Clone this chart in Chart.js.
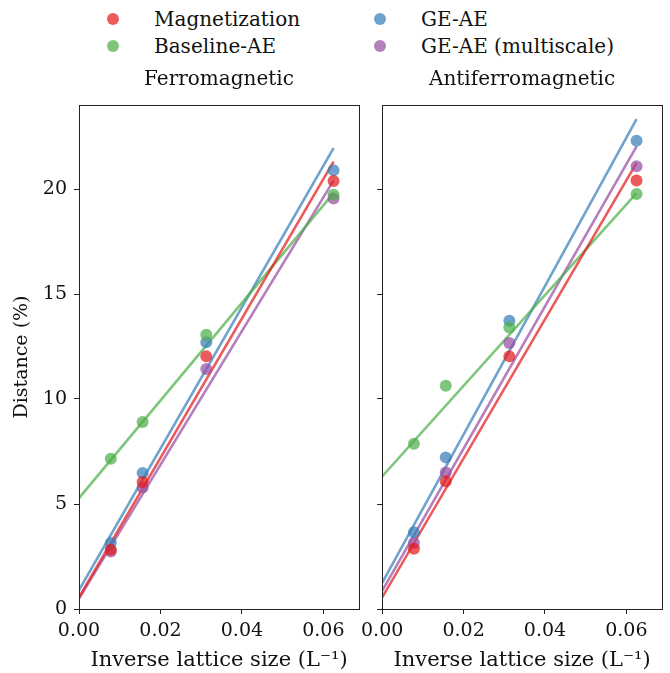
<!DOCTYPE html>
<html>
<head>
<meta charset="utf-8">
<script src="https://cdn.jsdelivr.net/npm/chart.js@4/dist/chart.umd.min.js"></script>
<style>
  html, body { margin:0; padding:0; background:#fff; }
  #wrap { position:relative; width:670px; height:673px; overflow:hidden; font-family:"DejaVu Serif", serif; }
  canvas { position:absolute; }
  .leg { position:absolute; font-size:20px; line-height:24px; color:#111; white-space:nowrap; }
  .dot { position:absolute; width:12px; height:12px; border-radius:50%; }
</style>
</head>
<body>
<div id="wrap">
  <div id="legend"></div>
  <canvas id="c1" width="370" height="613" style="left:0;top:60px;width:370px;height:613px"></canvas>
  <canvas id="c2" width="315" height="613" style="left:355px;top:60px;width:315px;height:613px"></canvas>
</div>
<script>
// ---- data ----
const seriesNames = ["Magnetization", "Baseline-AE", "GE-AE", "GE-AE (multiscale)"];
const seriesColors = ["rgba(228,26,28,0.72)", "rgba(77,175,74,0.72)", "rgba(55,126,184,0.72)", "rgba(152,78,163,0.72)"];
const panelTitles = ["Ferromagnetic", "Antiferromagnetic"];
const inverseL = [0.0078125, 0.015625, 0.03125, 0.0625];
const fitX = [0, 0.0625];

// Ferromagnetic
const ferroMagnetization = [2.82, 6.05, 12.03, 20.38];
const ferroBaseline      = [7.16, 8.90, 13.06, 19.73];
const ferroGEAE          = [3.14, 6.48, 12.70, 20.89];
const ferroMultiscale    = [2.74, 5.78, 11.43, 19.55];
const ferroFitMagnetization = [0.55, 21.30];
const ferroFitBaseline      = [5.28, 19.80];
const ferroFitGEAE          = [0.90, 21.95];
const ferroFitMultiscale    = [0.50, 20.40];

// Antiferromagnetic
const antiMagnetization = [2.87, 6.08, 12.03, 20.40];
const antiBaseline      = [7.87, 10.63, 13.41, 19.76];
const antiGEAE          = [3.65, 7.22, 13.73, 22.30];
const antiMultiscale    = [3.14, 6.50, 12.67, 21.08];
const antiFitMagnetization = [0.55, 21.24];
const antiFitBaseline      = [6.31, 19.80];
const antiFitGEAE          = [1.24, 23.33];
const antiFitMultiscale    = [0.86, 22.03];

const xTicks = [0, 0.02, 0.04, 0.06];
const yTicks = [0, 5, 10, 15, 20];
const xMax = 0.06875, yMax = 24;

// ---- legend (HTML text) ----
const legend = document.getElementById('legend');
const legPos = [[113, 154, 19], [113, 154, 46], [380, 421, 19], [380, 421, 46]];
seriesNames.forEach((n, i) => {
  const [dx, tx, cy] = legPos[i];
  const d = document.createElement('div');
  d.className = 'dot';
  d.style.left = (dx - 6) + 'px'; d.style.top = (cy - 6) + 'px';
  d.style.background = seriesColors[i];
  legend.appendChild(d);
  const t = document.createElement('div');
  t.className = 'leg';
  t.textContent = n;
  t.style.left = tx + 'px'; t.style.top = (cy - 12) + 'px';
  legend.appendChild(t);
});

const frame = {
  id: 'frame',
  afterDatasetsDraw(chart) {
    const a = chart.chartArea, ctx = chart.ctx;
    ctx.save();
    ctx.strokeStyle = '#222';
    ctx.lineWidth = 1;
    ctx.strokeRect(Math.round(a.left) + 0.5, Math.round(a.top) + 0.5, Math.round(a.right - a.left), Math.round(a.bottom - a.top));
    ctx.restore();
  }
};

function makeDatasets(points, fits) {
  const ds = [];
  points.forEach((vals, i) => {
    ds.push({
      type: 'line', label: seriesNames[i] + ' fit',
      data: fitX.map((x, k) => ({x, y: fits[i][k]})),
      borderColor: seriesColors[i], borderWidth: 2.6, pointRadius: 0, fill: false, order: 2
    });
  });
  points.forEach((vals, i) => {
    ds.push({
      type: 'scatter', label: seriesNames[i],
      data: inverseL.map((x, k) => ({x, y: vals[k]})),
      backgroundColor: seriesColors[i], borderWidth: 0, pointRadius: 6, order: 1
    });
  });
  return ds;
}

function makeChart(id, title, points, fits, yAxisWidth, padRight, showY) {
  return new Chart(document.getElementById(id), {
    type: 'scatter',
    data: { datasets: makeDatasets(points, fits) },
    plugins: [frame],
    options: {
      responsive: false, animation: false, devicePixelRatio: 1,
      layout: { padding: { left: 0, right: padRight, top: 0, bottom: 0 } },
      plugins: {
        legend: { display: false }, tooltip: { enabled: false },
        title: { display: true, text: title, fullSize: false, color: '#111',
                 font: { family: 'DejaVu Serif', size: 20, weight: 'normal' },
                 padding: { top: 8, bottom: 13 } }
      },
      scales: {
        x: {
          type: 'linear', min: 0, max: xMax,
          afterBuildTicks: s => { s.ticks = xTicks.map(v => ({value: v})); },
          afterFit: s => { s.height = 64; },
          grid: { drawOnChartArea: false, drawTicks: true, tickLength: 5, tickColor: '#222', tickWidth: 1 },
          border: { display: false },
          ticks: { color: '#111', padding: 6, maxRotation: 0, font: { family: 'DejaVu Serif', size: 19 },
                   callback: v => Number(v).toFixed(2) },
          title: { display: true, text: 'Inverse lattice size (L⁻¹)', color: '#111',
                   font: { family: 'DejaVu Serif', size: 21 }, padding: { top: 0, bottom: 0 } }
        },
        y: {
          type: 'linear', min: 0, max: yMax,
          afterBuildTicks: s => { s.ticks = yTicks.map(v => ({value: v})); },
          afterFit: s => { s.width = yAxisWidth; },
          grid: { drawOnChartArea: false, drawTicks: true, tickLength: 5, tickColor: '#222', tickWidth: 1 },
          border: { display: false },
          ticks: { display: showY, color: '#111', padding: 7, font: { family: 'DejaVu Serif', size: 19 } },
          title: { display: showY, text: 'Distance (%)', color: '#111',
                   font: { family: 'DejaVu Serif', size: 19 }, padding: { top: 11, bottom: 0 } }
        }
      }
    }
  });
}

makeChart('c1', panelTitles[0],
  [ferroMagnetization, ferroBaseline, ferroGEAE, ferroMultiscale],
  [ferroFitMagnetization, ferroFitBaseline, ferroFitGEAE, ferroFitMultiscale],
  79, 11, true);
makeChart('c2', panelTitles[1],
  [antiMagnetization, antiBaseline, antiGEAE, antiMultiscale],
  [antiFitMagnetization, antiFitBaseline, antiFitGEAE, antiFitMultiscale],
  26, 8, false);
</script>
</body>
</html>
